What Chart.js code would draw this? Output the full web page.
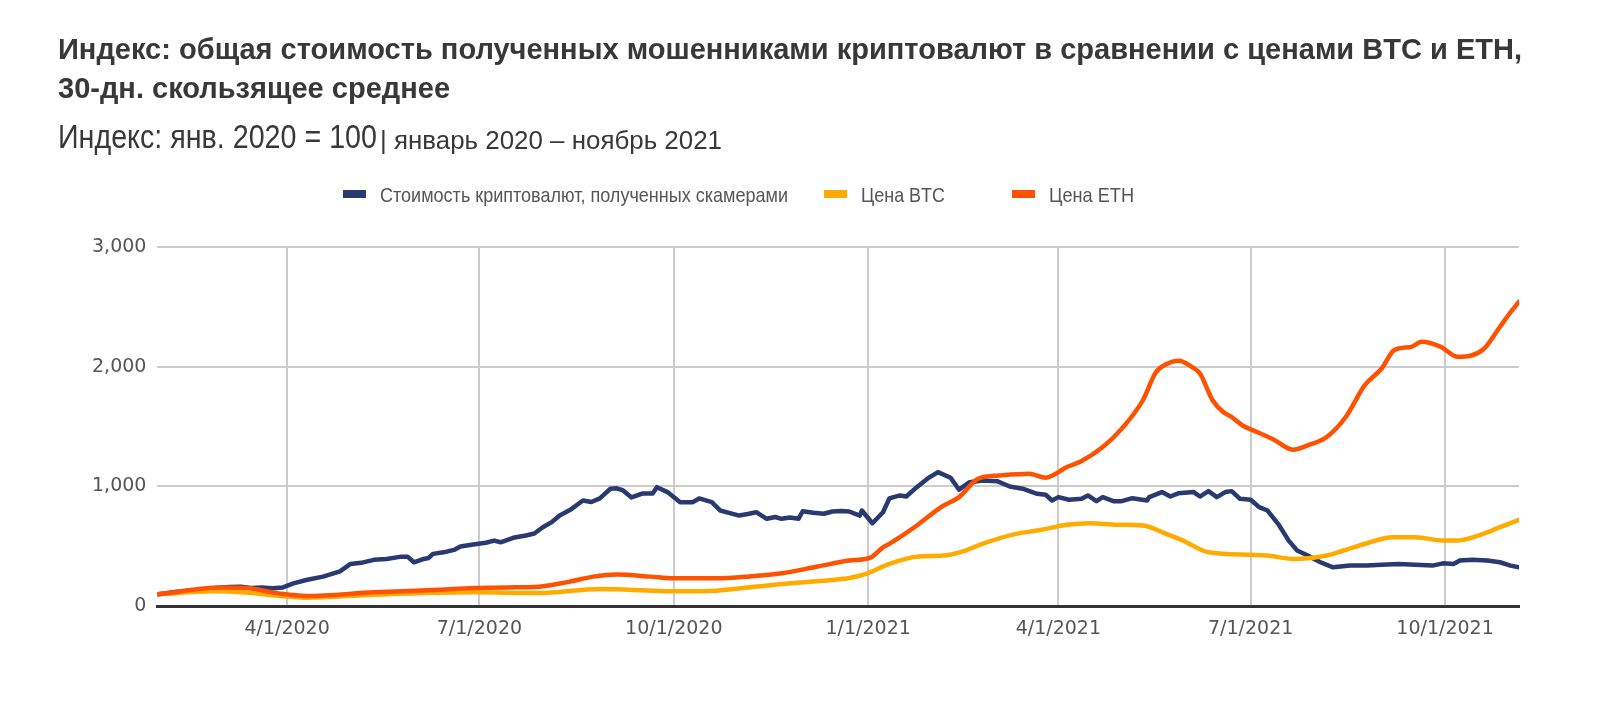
<!DOCTYPE html>
<html>
<head>
<meta charset="utf-8">
<script src="https://cdn.jsdelivr.net/npm/chart.js@4"></script>
<style>
  body { margin: 0; background: #fff; }
  #wrap { position: relative; width: 1600px; height: 703px; overflow: hidden; }
  #chart { position: absolute; left: 0; top: 0; }
  .txt { position: absolute; white-space: nowrap; color: #383838; transform-origin: 0 0; display: inline-block;
         font-family: "Liberation Sans Narrow", "Arial Narrow", "Liberation Sans", sans-serif; }
  #title { left: 58px; top: 29px; font-size: 30px; font-weight: bold; line-height: 39.3px; }
  #sub1 { left: 58px; top: 117px; font-size: 33px; line-height: 40px; }
  #sub2 { left: 380px; top: 119.5px; font-size: 26px; line-height: 40px; }
  #legend { position: absolute; top: 183px; left: 0; height: 24px;
            font-family: "Liberation Sans Narrow", "Arial Narrow", "Liberation Sans", sans-serif;
            font-size: 21px; color: #555; }
  .item { position: absolute; top: 0; white-space: nowrap; line-height: 24px; }
  .item i { display: inline-block; width: 23px; height: 8px; margin-right: 14px; vertical-align: middle; position: relative; top: -2px; }
  .item span { display: inline-block; transform-origin: 0 50%; }
  .item:nth-child(1) { left: 343px; }
  .item:nth-child(2) { left: 824px; }
  .item:nth-child(3) { left: 1012px; }
</style>
</head>
<body>
<div id="wrap">
  <canvas id="chart" width="1600" height="703"></canvas>
  <div class="txt" id="title">Индекс: общая стоимость полученных мошенниками криптовалют в сравнении с ценами BTC и ETH,<br>30-дн. скользящее среднее</div>
  <div class="txt" id="sub1">Индекс: янв. 2020 = 100</div>
  <div class="txt" id="sub2">| январь 2020 – ноябрь 2021</div>
  <div id="legend"></div>
</div>
<script>
// данные: индекс, янв. 2020 = 100
const seriesNames = ['Стоимость криптовалют, полученных скамерами', 'Цена BTC', 'Цена ETH'];
const seriesColors = ['#283a70', '#ffab00', '#ff5200'];

const xTickDates = ['2020-04-01', '2020-07-01', '2020-10-01', '2021-01-01', '2021-04-01', '2021-07-01', '2021-10-01'];
const xTickLabels = ['4/1/2020', '7/1/2020', '10/1/2020', '1/1/2021', '4/1/2021', '7/1/2021', '10/1/2021'];
const yTicks = [0, 1000, 2000, 3000];

const scamDates = ['2020-01-31','2020-02-08','2020-02-15','2020-02-22','2020-02-28','2020-03-05','2020-03-10','2020-03-15','2020-03-20','2020-03-25',
  '2020-03-30','2020-04-04','2020-04-10','2020-04-18','2020-04-26','2020-05-01','2020-05-06','2020-05-12','2020-05-18','2020-05-25',
  '2020-05-28','2020-05-31','2020-06-04','2020-06-07','2020-06-09','2020-06-14','2020-06-19','2020-06-22','2020-06-28','2020-07-04',
  '2020-07-08','2020-07-11','2020-07-17','2020-07-23','2020-07-27','2020-07-31','2020-08-04','2020-08-08','2020-08-13','2020-08-19',
  '2020-08-23','2020-08-27','2020-09-01','2020-09-04','2020-09-07','2020-09-11','2020-09-16','2020-09-21','2020-09-23','2020-09-28',
  '2020-10-04','2020-10-10','2020-10-13','2020-10-19','2020-10-23','2020-10-28','2020-11-01','2020-11-05','2020-11-09','2020-11-14',
  '2020-11-18','2020-11-21','2020-11-25','2020-11-29','2020-12-01','2020-12-06','2020-12-11','2020-12-15','2020-12-19','2020-12-23',
  '2020-12-28','2020-12-29','2021-01-03','2021-01-08','2021-01-11','2021-01-16','2021-01-19','2021-01-24','2021-01-29','2021-02-03',
  '2021-02-09','2021-02-13','2021-02-18','2021-02-24','2021-03-03','2021-03-09','2021-03-15','2021-03-22','2021-03-26','2021-03-29',
  '2021-04-01','2021-04-06','2021-04-12','2021-04-15','2021-04-19','2021-04-22','2021-04-27','2021-05-01','2021-05-06','2021-05-13',
  '2021-05-14','2021-05-20','2021-05-24','2021-05-28','2021-06-04','2021-06-07','2021-06-11','2021-06-15','2021-06-19','2021-06-22',
  '2021-06-26','2021-07-01','2021-07-05','2021-07-09','2021-07-14','2021-07-19','2021-07-23','2021-07-28','2021-08-03','2021-08-09',
  '2021-08-17','2021-08-25','2021-09-01','2021-09-09','2021-09-17','2021-09-25','2021-09-30','2021-10-05','2021-10-08','2021-10-14',
  '2021-10-21','2021-10-27','2021-11-01','2021-11-05'];
const scamValues = [100,118,130,142,155,160,163,152,156,150,
  157,190,219,247,291,353,362,387,395,414,
  414,367,392,403,437,450,470,498,515,530,
  548,534,571,590,607,660,700,757,805,883,
  870,900,981,985,967,908,941,941,994,953,
  869,869,900,869,799,775,757,770,785,730,
  745,730,740,730,793,780,772,791,795,791,
  757,799,693,785,900,925,916,994,1065,1120,
  1073,973,1036,1050,1044,1000,981,939,931,883,
  911,889,897,925,877,911,877,877,902,883,
  911,953,916,944,953,916,961,911,953,961,
  897,889,827,799,688,548,465,423,367,325,
  339,339,347,353,347,339,358,353,381,387,
  381,367,339,325];

const btcDates = ['2020-01-31','2020-02-26','2020-03-10','2020-04-02','2020-04-10','2020-05-12','2020-06-28','2020-07-29','2020-08-27','2020-10-05',
  '2020-10-21','2020-11-21','2020-12-15','2020-12-23','2020-12-31','2021-01-11','2021-01-24','2021-02-07','2021-02-16','2021-02-24',
  '2021-03-12','2021-03-24','2021-04-05','2021-04-16','2021-04-29','2021-05-11','2021-05-22','2021-05-30','2021-06-11','2021-07-01',
  '2021-07-09','2021-07-21','2021-07-28','2021-08-06','2021-08-14','2021-08-25','2021-09-06','2021-09-17','2021-09-30','2021-10-06',
  '2021-10-19','2021-10-27','2021-11-05'];
const btcValues = [100,124,116,80,71,96,116,110,144,124,
  130,186,219,236,270,353,414,425,465,521,
  604,638,680,693,680,674,604,548,450,429,
  423,395,400,423,465,526,576,576,548,548,
  604,660,721];

const ethDates = ['2020-01-31','2020-03-01','2020-03-13','2020-03-28','2020-04-10','2020-05-12','2020-06-12','2020-06-28','2020-07-15','2020-07-27',
  '2020-08-11','2020-08-24','2020-09-04','2020-09-20','2020-09-30','2020-10-21','2020-11-06','2020-11-21','2020-12-08','2020-12-23',
  '2021-01-02','2021-01-08','2021-01-11','2021-01-16','2021-01-24','2021-02-05','2021-02-13','2021-02-22','2021-03-04','2021-03-18',
  '2021-03-26','2021-04-05','2021-04-12','2021-04-22','2021-05-01','2021-05-11','2021-05-17','2021-05-22','2021-05-28','2021-06-03',
  '2021-06-07','2021-06-13','2021-06-18','2021-06-22','2021-06-27','2021-07-04','2021-07-12','2021-07-21','2021-07-28','2021-08-06',
  '2021-08-15','2021-08-24','2021-09-01','2021-09-07','2021-09-15','2021-09-20','2021-09-29','2021-10-07','2021-10-19','2021-10-27',
  '2021-10-31','2021-11-05'];
const ethValues = [100,157,152,107,85,116,138,152,157,160,
  199,247,264,247,233,233,249,275,331,381,
  405,492,521,576,674,833,911,1065,1092,1107,
  1073,1162,1212,1329,1483,1720,1950,2020,2050,2000,
  1944,1720,1622,1580,1511,1455,1391,1307,1343,1413,
  1580,1846,1985,2139,2166,2208,2166,2083,2144,2334,
  2432,2543];

// дни от 1 января 2020
function dayOf(s) {
    const p = s.split('-').map(Number);
    return (Date.UTC(p[0], p[1] - 1, p[2]) - Date.UTC(2020, 0, 1)) / 86400000;
}

function points(dates, values) {
    return dates.map((d, i) => ({ x: dayOf(d), y: values[i] }));
}

// нет узкого шрифта — сжимаем по ширине
function fitWidth(el, target) {
    const w = el.getBoundingClientRect().width;
    if (w > 0) el.style.transform = `scaleX(${target / w})`;
}

// легенда
const legend = document.getElementById('legend');
const legendWidths = [408, 84, 85];
seriesNames.forEach((name, i) => {
    const el = document.createElement('div');
    el.className = 'item';
    el.innerHTML = `<i style="background:${seriesColors[i]}"></i><span>${name}</span>`;
    legend.appendChild(el);
    fitWidth(el.querySelector('span'), legendWidths[i]);
});

fitWidth(document.getElementById('title'), 1464);
fitWidth(document.getElementById('sub1'), 319);
fitWidth(document.getElementById('sub2'), 342);

const tickDays = xTickDates.map(dayOf);
const axisFont = { family: 'DejaVu Sans', size: 19 };

new Chart(document.getElementById('chart'), {
    type: 'line',
    data: {
        datasets: [
            { label: seriesNames[2], data: points(ethDates, ethValues), borderColor: seriesColors[2], cubicInterpolationMode: 'monotone' },
            { label: seriesNames[1], data: points(btcDates, btcValues), borderColor: seriesColors[1], cubicInterpolationMode: 'monotone' },
            { label: seriesNames[0], data: points(scamDates, scamValues), borderColor: seriesColors[0], tension: 0 }
        ]
    },
    options: {
        responsive: false,
        animation: false,
        devicePixelRatio: 1,
        layout: { padding: { left: 81, right: 81, top: 247, bottom: 52 } },
        elements: {
            point: { radius: 0 },
            line: { borderWidth: 4.5, borderCapStyle: 'round', borderJoinStyle: 'round', fill: false }
        },
        plugins: { legend: { display: false }, tooltip: { enabled: false } },
        scales: {
            x: {
                type: 'linear',
                min: 29.6,
                max: 674,
                afterBuildTicks: axis => { axis.ticks = tickDays.map(v => ({ value: v })); },
                ticks: {
                    autoSkip: false,
                    maxRotation: 0,
                    padding: 11,
                    color: '#555',
                    font: axisFont,
                    callback: v => xTickLabels[tickDays.indexOf(v)]
                },
                grid: { color: '#cccccc', lineWidth: 2, drawTicks: false },
                border: { display: true, color: '#333', width: 3 }
            },
            y: {
                min: 0,
                max: 3000,
                afterBuildTicks: axis => { axis.ticks = yTicks.map(v => ({ value: v })); },
                ticks: {
                    padding: 11,
                    color: '#555',
                    font: axisFont,
                    callback: v => v.toLocaleString('en-US')
                },
                grid: { color: '#cccccc', lineWidth: 2, drawTicks: false },
                border: { display: false }
            }
        }
    }
});
</script>
</body>
</html>
